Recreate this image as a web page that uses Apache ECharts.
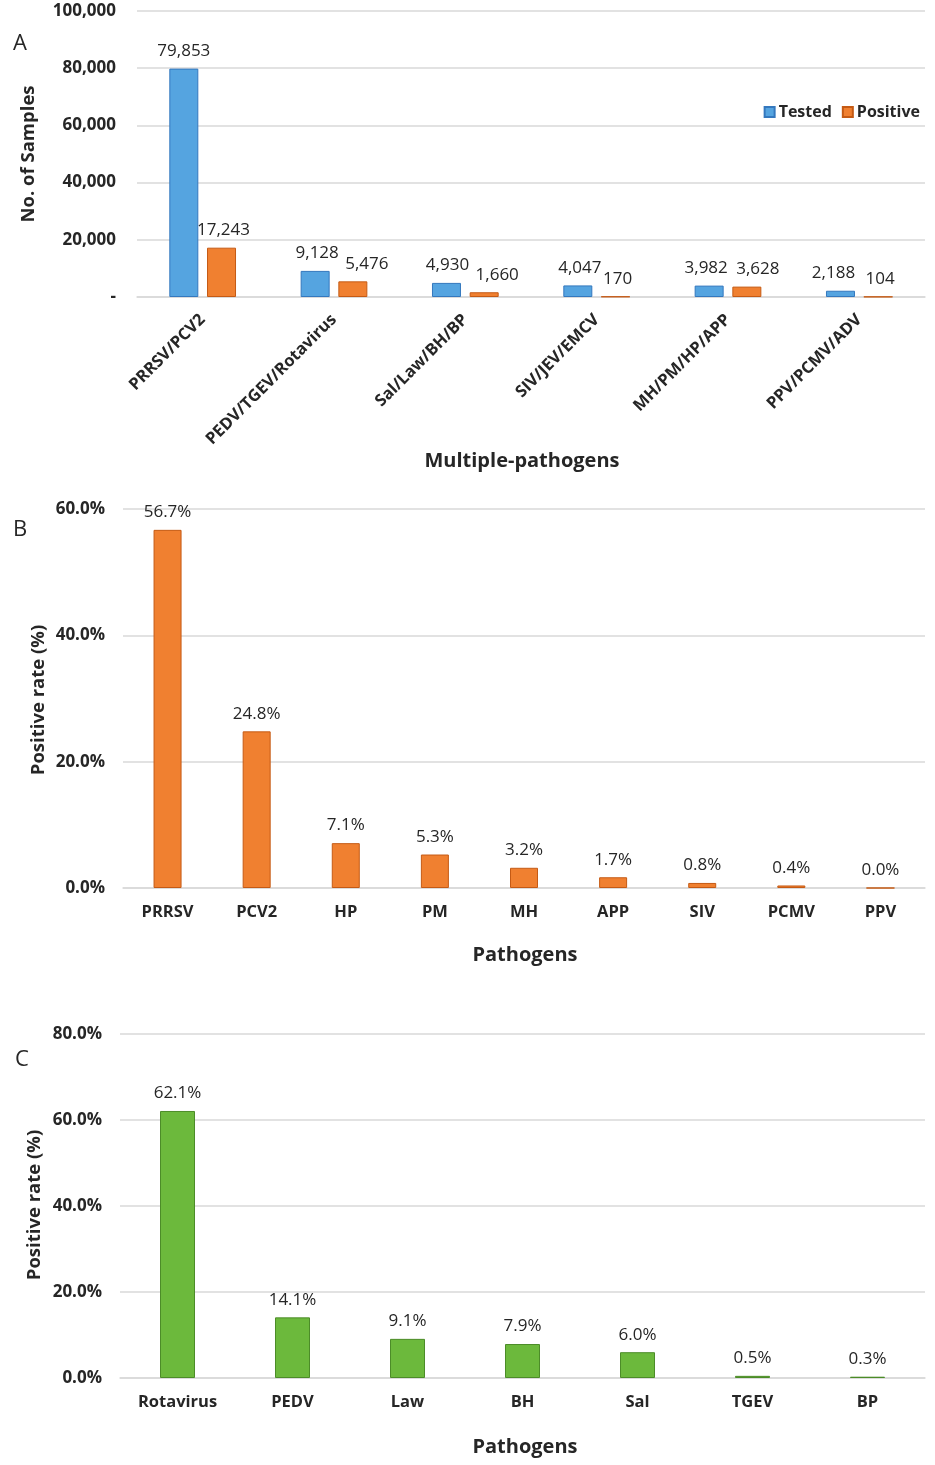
<!DOCTYPE html>
<html><head><meta charset="utf-8">
<script src="https://cdn.jsdelivr.net/npm/echarts@6/dist/echarts.min.js"></script>
<style>html,body{margin:0;padding:0;background:#fff}#c{width:935px;height:1465px}</style>
</head><body><div id="c"></div>
<script>
// Panel A
var groupCats = ['PRRSV/PCV2','PEDV/TGEV/Rotavirus','Sal/Law/BH/BP','SIV/JEV/EMCV','MH/PM/HP/APP','PPV/PCMV/ADV'];
var testedVals = [79853, 9128, 4930, 4047, 3982, 2188];
var positiveVals = [17243, 5476, 1660, 170, 3628, 104];
var yTicksA = [0, 20000, 40000, 60000, 80000, 100000];
// Panel B
var pathCatsB = ['PRRSV','PCV2','HP','PM','MH','APP','SIV','PCMV','PPV'];
var rateB = [56.7, 24.8, 7.1, 5.3, 3.2, 1.7, 0.8, 0.4, 0.0];
// Panel C
var pathCatsC = ['Rotavirus','PEDV','Law','BH','Sal','TGEV','BP'];
var rateC = [62.1, 14.1, 9.1, 7.9, 6.0, 0.5, 0.3];

// label nudges (style only) to mimic the original label placement
var testedLabelDx = [0, 2, 1, 2, -3, -7];
var positiveLabelDx = [2, 14, 13, 2, 11, 2];

var FONT = '"Open Sans", "DejaVu Sans", sans-serif';
var TXT = '#262626';
var GRID = '#d9d9d9';
var chart = echarts.init(document.getElementById('c'), null, {renderer:'canvas'});

function pct(v){ return Number(v).toFixed(1) + '%'; }
function num(v){ return Number(v).toLocaleString('en-US'); }
function yAxisCommon(gi, max, interval, fmt, margin){
  return {
    type:'value', gridIndex:gi, min:0, max:max, interval:interval,
    axisLine:{show:false}, axisTick:{show:false},
    splitLine:{lineStyle:{color:GRID, width:1.5}},
    axisLabel:{fontFamily:FONT, fontSize:17, fontWeight:'bold', color:TXT, margin:margin, formatter:fmt}
  };
}
function xAxisCommon(gi, data, extra){
  var o = {
    type:'category', gridIndex:gi, data:data,
    axisLine:{lineStyle:{color:GRID, width:1.5}}, axisTick:{show:false},
    axisLabel:{fontFamily:FONT, fontSize:16.5, fontWeight:'bold', color:TXT, margin:16, interval:0}
  };
  if (extra) Object.assign(o.axisLabel, extra);
  return o;
}
function labelCfg(fmt){
  return {show:true, position:'top', distance:9, fontFamily:FONT, fontSize:17, color:TXT,
    formatter:function(p){return fmt(p.value);}};
}
function withDx(vals, dx){
  return vals.map(function(v, i){ return {value:v, label:{offset:[dx[i], 0]}}; });
}
function title(text, x, y, rot, size, weight){
  return {type:'text', x:x, y:y, rotation:rot||0,
    style:{text:text, fontFamily:FONT, fontSize:size, fontWeight:weight||'bold', fill:TXT,
      align:'center', verticalAlign:'middle', textAlign:'center', textVerticalAlign:'middle'}};
}

chart.setOption({
  animation:false,
  backgroundColor:'#fff',
  grid:[
    {left:137, right:10, top:11, height:286},
    {left:123, right:10, top:509, height:379},
    {left:120, right:10, top:1034, height:344}
  ],
  legend:{
    data:['Tested','Positive'], right:10, top:99, itemWidth:10, itemHeight:10, itemGap:10,
    icon:'rect',
    textStyle:{fontFamily:FONT, fontSize:16, fontWeight:'bold', color:TXT, padding:[0,0,0,-1]}
  },
  xAxis:[
    xAxisCommon(0, groupCats, {rotate:45, fontSize:16.5, margin:20}),
    xAxisCommon(1, pathCatsB),
    xAxisCommon(2, pathCatsC)
  ],
  yAxis:[
    yAxisCommon(0, 100000, 20000, function(v){ return v === 0 ? '-' : num(v); }, 21),
    yAxisCommon(1, 60, 20, pct, 18),
    yAxisCommon(2, 80, 20, pct, 18)
  ],
  series:[
    {name:'Tested', type:'bar', xAxisIndex:0, yAxisIndex:0, data:withDx(testedVals, testedLabelDx), barWidth:29, barGap:'30%',
      itemStyle:{color:'#55A4E0', borderColor:'#3478BE', borderWidth:1},
      label:labelCfg(num)},
    {name:'Positive', type:'bar', xAxisIndex:0, yAxisIndex:0, data:withDx(positiveVals, positiveLabelDx), barWidth:29, barGap:'30%',
      itemStyle:{color:'#F08030', borderColor:'#C55A14', borderWidth:1},
      label:labelCfg(num)},
    {name:'RateB', type:'bar', xAxisIndex:1, yAxisIndex:1, data:rateB, barWidth:28,
      itemStyle:{color:'#F08030', borderColor:'#C55A14', borderWidth:1},
      label:labelCfg(pct)},
    {name:'RateC', type:'bar', xAxisIndex:2, yAxisIndex:2, data:rateC, barWidth:35,
      itemStyle:{color:'#6CB93C', borderColor:'#4C8C28', borderWidth:1},
      label:labelCfg(pct)}
  ],
  graphic:[
    title('A', 20, 44, 0, 22, 'normal'),
    title('B', 20, 530, 0, 22, 'normal'),
    title('C', 22, 1060, 0, 22, 'normal'),
    title('No. of Samples', 29, 154, Math.PI/2, 18.5),
    title('Multiple-pathogens', 522, 461, 0, 20),
    title('Positive rate (%)', 39, 700, Math.PI/2, 18.5),
    title('Pathogens', 525, 955, 0, 20),
    title('Positive rate (%)', 35, 1205, Math.PI/2, 18.5),
    title('Pathogens', 525, 1447, 0, 20)
  ]
});
</script></body></html>
